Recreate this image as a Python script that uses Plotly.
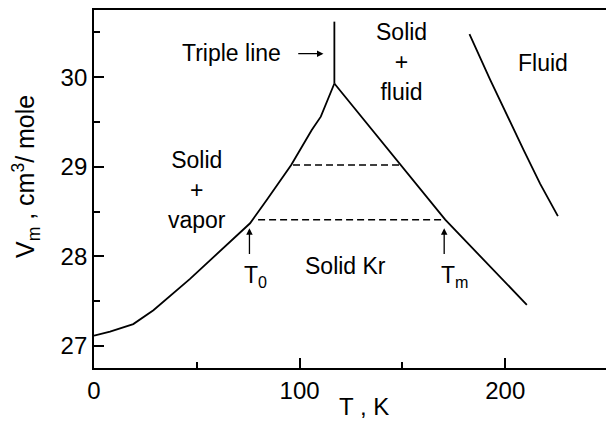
import plotly.graph_objects as go

# Data
left_T = [0, 7.8, 19.1, 28.9, 46.7, 59.7, 75.9, 84.0, 95.9, 105.9, 110.3, 116.9]
left_V = [27.115, 27.16, 27.245, 27.40, 27.75, 28.03, 28.37, 28.63, 29.02, 29.41, 29.56, 29.93]

right_T = [116.9, 149.2, 170.8, 210.5]
right_V = [29.93, 29.02, 28.41, 27.46]

triple_T = [116.9, 116.9]
triple_V = [29.93, 30.62]

fluid_T = [182.6, 192.7, 208.9, 217.0, 225.6]
fluid_V = [30.48, 29.97, 29.19, 28.81, 28.45]

dash1_T = [96.8, 148.9]
dash1_V = [29.02, 29.02]
dash2_T = [79.8, 170.8]
dash2_V = [28.41, 28.41]

x_major = [0, 100, 200]
x_minor = [50, 150, 250]
y_major = [27, 28, 29, 30]
y_minor = [27.5, 28.5, 29.5, 30.5]

FONT = "Liberation Sans, Arial, Helvetica, sans-serif"
fig = go.Figure()
line = dict(color="black", width=1.8)
for T, V in [(left_T, left_V), (right_T, right_V), (triple_T, triple_V), (fluid_T, fluid_V)]:
    fig.add_trace(go.Scatter(x=T, y=V, mode="lines", line=line, showlegend=False, hoverinfo="skip"))
for T, V in [(dash1_T, dash1_V), (dash2_T, dash2_V)]:
    fig.add_trace(go.Scatter(x=T, y=V, mode="lines", line=dict(color="black", width=1.5, dash="7px,4px"),
                             showlegend=False, hoverinfo="skip"))

tf = dict(family=FONT, size=23, color="black")
titf = dict(family=FONT, size=25, color="black")
anns = [
    dict(x=50.1, y=28.74, text="Solid<br>+<br>vapor", showarrow=False, font=tf, align="center"),
    dict(x=149.7, y=30.17, text="Solid<br>+<br>fluid", showarrow=False, font=tf, align="center"),
    dict(x=218.5, y=30.155, text="Fluid", showarrow=False, font=tf),
    dict(x=122.1, y=27.89, text="Solid Kr", showarrow=False, font=tf),
    dict(x=92.0, y=30.27, text="Triple line", showarrow=False, font=tf, xanchor="right"),
    dict(x=72.0, y=27.78, text="T<sub>0</sub>", showarrow=False, font=tf, xanchor="left"),
    dict(x=168.0, y=27.78, text="T<sub>m</sub>", showarrow=False, font=tf, xanchor="left"),
    # arrows
    dict(x=111.6, y=30.263, ax=98.6, ay=30.263, axref="x", ayref="y", text="", showarrow=True,
         arrowhead=2, arrowsize=1, arrowwidth=1.3, arrowcolor="black"),
    dict(x=75.6, y=28.315, ax=75.6, ay=28.01, axref="x", ayref="y", text="", showarrow=True,
         arrowhead=2, arrowsize=1, arrowwidth=1.3, arrowcolor="black"),
    dict(x=170.3, y=28.315, ax=170.3, ay=28.01, axref="x", ayref="y", text="", showarrow=True,
         arrowhead=2, arrowsize=1, arrowwidth=1.3, arrowcolor="black"),
    # axis titles
    dict(x=0.527, y=-0.108, xref="paper", yref="paper", xanchor="center", yanchor="middle",
         text="T , K", showarrow=False, font=dict(family=FONT, size=24, color="black")),
    dict(x=-0.133, y=0.536, xref="paper", yref="paper", xanchor="center", yanchor="middle",
         text="V<sub>m</sub> , cm<sup>3</sup>/ mole", showarrow=False, font=titf, textangle=-90),
]
fig.update_layout(annotations=anns)

tickf = dict(family=FONT, size=24, color="black")
fig.update_xaxes(range=[0, 249], showline=True, linecolor="black", linewidth=1.8, mirror=True,
                 ticks="inside", ticklen=10, tickwidth=1.5, tickcolor="black",
                 tickvals=x_major, ticktext=[str(v) for v in x_major],
                 minor=dict(tickvals=x_minor, ticks="inside", ticklen=6, tickwidth=1.5, tickcolor="black"),
                 showgrid=False, zeroline=False, tickfont=tickf)
fig.update_yaxes(range=[26.755, 30.75], showline=True, linecolor="black", linewidth=1.8, mirror=False,
                 ticks="inside", ticklen=10, tickwidth=1.5, tickcolor="black",
                 tickvals=y_major, ticktext=[str(v) for v in y_major],
                 minor=dict(tickvals=y_minor, ticks="inside", ticklen=6, tickwidth=1.5, tickcolor="black"),
                 showgrid=False, zeroline=False, tickfont=tickf)

fig.update_layout(width=606, height=421, margin=dict(l=94, r=0, t=10, b=53),
                  paper_bgcolor="white", plot_bgcolor="white")
fig.write_html("out.html")
